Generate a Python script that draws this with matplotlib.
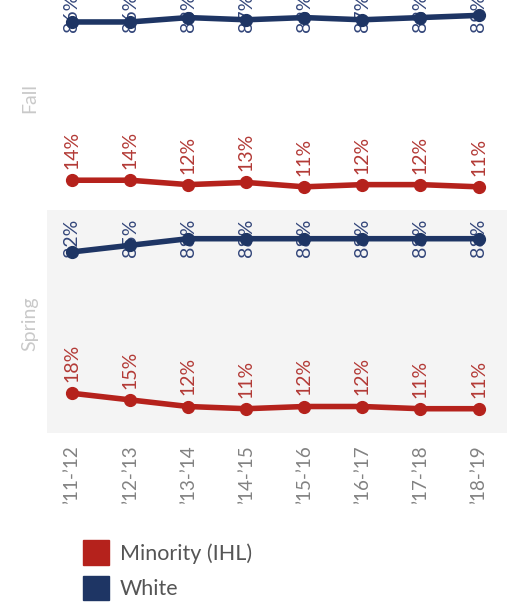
import matplotlib.pyplot as plt
from matplotlib.patches import Patch

plt.rcParams['font.family'] = ['Lato', 'DejaVu Sans']

seasons = ['Fall', 'Spring']
years = ['’11-’12', '’12-’13', '’13-’14', '’14-’15', '’15-’16', '’16-’17', '’17-’18', '’18-’19']
fall_minority = [14, 14, 12, 13, 11, 12, 12, 11]
fall_white = [86, 86, 88, 87, 88, 87, 88, 89]
spring_minority = [18, 15, 12, 11, 12, 12, 11, 11]
spring_white = [82, 85, 88, 88, 88, 88, 88, 88]

red = '#b5221c'
navy = '#1e3564'
red_txt = '#b33a36'
navy_txt = '#33467a'

W, H = 513, 608
fig = plt.figure(figsize=(W / 100, H / 100), dpi=100)

# pane boxes in pixels: (top, bottom), shared x range
x0, x1 = 47, 507
panes = {'Fall': (-11, 211), 'Spring': (210, 433)}
data = {'Fall': (fall_minority, fall_white), 'Spring': (spring_minority, spring_white)}
white_lbl_pos = {'Fall': 0.805, 'Spring': 0.79}

xs = list(range(len(years)))
axes = {}
for s in seasons:
    top, bot = panes[s]
    ax = fig.add_axes([x0 / W, (H - bot) / H, (x1 - x0) / W, (bot - top) / H])
    ax.set_facecolor('#f4f4f4' if s == 'Spring' else 'white')
    ax.set_xlim(-0.43, 7.49)
    ax.set_ylim(0, 101)
    for sp in ax.spines.values():
        sp.set_visible(False)
    ax.set_yticks([])
    ax.tick_params(length=0)
    mino, white = data[s]
    ax.plot(xs, white, color=navy, lw=4, marker='o', ms=8.5, zorder=3, solid_capstyle='round')
    ax.plot(xs, mino, color=red, lw=4, marker='o', ms=8.5, zorder=3, solid_capstyle='round')
    for x, v in zip(xs, mino):
        ax.annotate(f'{v}%', (x, v), xytext=(0, 8), textcoords='offset points',
                    rotation=90, ha='center', va='bottom', fontsize=14, color=red_txt)
    for x, v in zip(xs, white):
        ax.text(x, white_lbl_pos[s], f'{v}%', transform=ax.get_xaxis_transform(),
                rotation=90, ha='center', va='bottom', fontsize=14, color=navy_txt, zorder=2)
    ax.text((30 - x0) / (x1 - x0), 0.49 if s == 'Spring' else 0.51, s,
            transform=ax.transAxes, rotation=90, ha='center', va='center',
            fontsize=14, color='#c9c9c9')
    axes[s] = ax

axes['Fall'].set_xticks([])
ax = axes['Spring']
ax.set_xticks(xs)
ax.set_xticklabels(years, rotation=90, fontsize=13.5, color='#828282')
ax.tick_params(axis='x', pad=9)

handles = [Patch(facecolor=red, edgecolor=red, label='Minority (IHL)'),
           Patch(facecolor=navy, edgecolor=navy, label='White')]
fig.legend(handles=handles, loc='upper left', bbox_to_anchor=(83 / W, 1 - 540 / H),
           frameon=False, fontsize=15.5, handlelength=1.2, handleheight=1.4,
           labelspacing=0.5, handletextpad=0.5, labelcolor='#555555',
           borderaxespad=0, borderpad=0)

fig.savefig('out.png', dpi=100)
